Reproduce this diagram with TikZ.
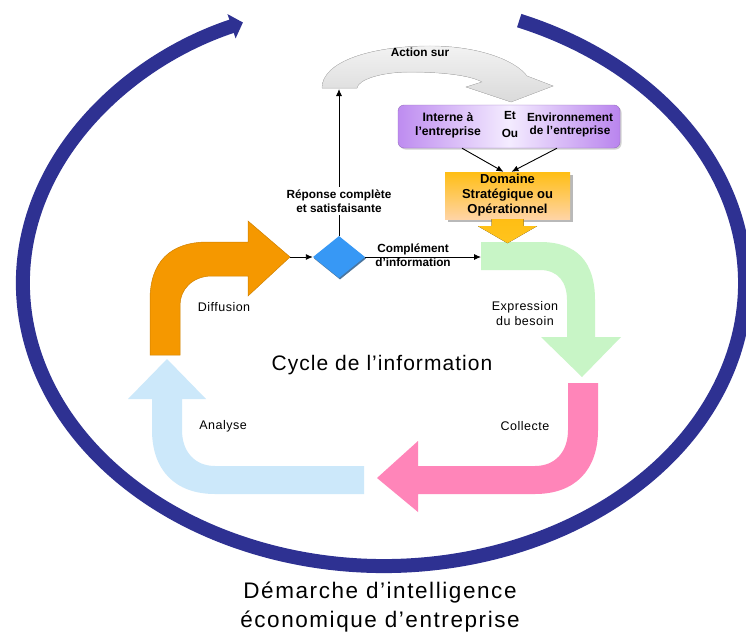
\documentclass[tikz,border=0pt]{standalone}
\usepackage{fontspec}
\setmainfont{Liberation Sans}
\usetikzlibrary{shapes.geometric,arrows.meta,calc,shadows}
\definecolor{navy}{RGB}{46,49,146}
\definecolor{orangeA}{RGB}{245,152,0}
\definecolor{greenA}{RGB}{200,245,198}
\definecolor{pinkA}{RGB}{255,133,185}
\definecolor{blueA}{RGB}{204,232,250}
\definecolor{greyA}{RGB}{218,218,218}
\definecolor{diablue}{RGB}{55,152,245}
\definecolor{purpL}{RGB}{190,140,240}
\definecolor{purpM}{RGB}{244,236,255}
\definecolor{purpR}{RGB}{185,132,238}
\definecolor{domTop}{RGB}{255,190,20}
\definecolor{domBot}{RGB}{255,212,165}
\definecolor{yelArr}{RGB}{255,196,30}
\begin{document}
\begin{tikzpicture}[x=1pt,y=1pt,
  boldlbl/.style={font=\fontsize{11.8}{13.8}\selectfont\bfseries, align=center, inner sep=1pt},
  lbl/.style={font=\fontsize{12.5}{15}\selectfont\addfontfeature{LetterSpace=4}, align=center, inner sep=1pt},
  conn/.style={draw=black, line width=0.9pt, -{Latex[length=7pt,width=6pt]}}]
\useasboundingbox (0,0) rectangle (746,-634);
\fill[white] (0,0) rectangle (746,-634);

% big outer arc
\draw[navy, line width=14pt, -{Triangle[length=12pt,width=25pt]}]
  (519.2,-20.6) arc[start angle=68, end angle=-247, x radius=361, y radius=283];

% grey "Action sur" arrow
\fill[top color=gray!10, bottom color=greyA, draw=gray!45, line width=0.4pt]
  (322,-88) .. controls (322,-62) and (370,-46) .. (430,-46)
  .. controls (478,-46) and (515,-60) .. (527,-76)
  -- (553,-86) -- (511,-102) -- (466,-87) -- (482,-82)
  .. controls (470,-75) and (440,-72) .. (410,-72)
  .. controls (380,-72) and (358,-80) .. (357,-88) -- cycle;

% orange arrow (Diffusion)
\fill[orangeA, draw=orangeA!85!black, line width=0.5pt]
  (150,-355) -- (150,-300) .. controls (150,-262) and (170,-242) .. (208,-242)
  -- (248,-242) -- (248,-221) -- (290,-257) -- (248,-296) -- (248,-276)
  -- (212,-276) .. controls (192,-276) and (180,-290) .. (180,-305)
  -- (180,-355) -- cycle;

% green arrow (Expression du besoin)
\fill[greenA]
  (481,-242) -- (540,-242) .. controls (577,-242) and (595,-262) .. (595,-300)
  -- (595,-337) -- (621,-337) -- (582,-377) -- (541,-337) -- (567,-337)
  -- (567,-300) .. controls (567,-282) and (558,-270) .. (540,-270)
  -- (481,-270) -- cycle;

% pink arrow (Collecte)
\fill[pinkA]
  (568,-383) -- (598,-383) -- (598,-430) .. controls (598,-470) and (575,-494) .. (535,-494)
  -- (418,-494) -- (418,-512) -- (377,-478) -- (418,-441) -- (418,-466)
  -- (535,-466) .. controls (555,-466) and (568,-452) .. (568,-430) -- cycle;

% light blue arrow (Analyse)
\fill[blueA]
  (364,-466) -- (364,-494) -- (215,-494) .. controls (175,-494) and (152,-470) .. (152,-430)
  -- (152,-399) -- (128,-399) -- (167,-359) -- (206,-399) -- (182,-399)
  -- (182,-430) .. controls (182,-452) and (195,-466) .. (215,-466) -- cycle;

% coordinates for connectors
\coordinate (otip) at (290,-257);
\coordinate (gstart) at (481,-257);
\coordinate (gbase) at (339,-89);

% diamond
\node[diamond, aspect=1.24, minimum width=52pt, minimum height=42pt, inner sep=0pt,
      fill=diablue, drop shadow={shadow xshift=1pt, shadow yshift=-1.5pt, fill=diablue!55!black, opacity=0.8}]
  (dia) at (339,-257) {};

\draw[conn] (otip) -- (dia.west);
\draw[conn] (dia.east) -- (gstart);
\draw[conn] (dia.north) -- (gbase);

\node[boldlbl, fill=white, inner sep=3pt] (rep) at (339,-201) {Réponse complète\\et satisfaisante};
\node[boldlbl] (compl) at (413,-255) {Complément\\d’information};
\node[boldlbl] (action) at (420,-52) {Action sur};

% purple box
\node[draw=purpL!80!black, line width=0.4pt, rounded corners=6pt, minimum width=222pt, minimum height=43pt,
      left color=purpL, right color=purpR, middle color=purpM,
      drop shadow={shadow xshift=1.5pt, shadow yshift=-1.5pt, fill=gray!45, opacity=0.8}]
  (ent) at (509,-126.5) {};
\node[boldlbl, font=\fontsize{12.2}{14}\selectfont\bfseries] (interne) at (448,-125) {Interne à\\l’entreprise};
\node[boldlbl] (et) at (510,-115) {Et};
\node[boldlbl] (ou) at (510,-133) {Ou};
\node[boldlbl] (env) at (570,-125) {Environnement\\de l’entreprise};

% domaine box
\node[minimum width=125pt, minimum height=47pt, inner sep=0pt,
      top color=domTop, bottom color=domBot,
      drop shadow={shadow xshift=3pt, shadow yshift=-3pt, fill=gray!55, opacity=1}]
  (dom) at (507.5,-195.5) {};
\node[boldlbl, font=\fontsize{13}{15}\selectfont\bfseries] (domtxt) at (dom.center) {Domaine\\Stratégique ou\\Opérationnel};

\draw[conn] ([xshift=-47pt]ent.south) -- ([xshift=-4pt]dom.north);
\draw[conn] ([xshift=48pt]ent.south) -- ([xshift=4pt]dom.north);

% yellow arrow below domaine box
\fill[top color=domTop, bottom color=yelArr]
  ($(dom.south)+(-16,0)$) -- ($(dom.south)+(-16,-7)$) -- ($(dom.south)+(-29.5,-7)$)
  -- ($(dom.south)+(0,-24)$) -- ($(dom.south)+(29.5,-7)$) -- ($(dom.south)+(16,-7)$)
  -- ($(dom.south)+(16,0)$) -- cycle;

% cycle labels
\node[lbl] (diff) at (224,-307) {Diffusion};
\node[lbl] (expr) at (525,-314) {Expression\\du besoin};
\node[lbl] (coll) at (525,-426) {Collecte};
\node[lbl] (anal) at (223,-426) {Analyse};
\node[font=\fontsize{21}{25}\selectfont\addfontfeature{LetterSpace=5}, inner sep=0pt] (cycle) at (382,-365) {Cycle de l’information};

% title
\node[font=\fontsize{22.5}{29}\selectfont\addfontfeature{LetterSpace=7}, align=center, inner sep=0pt] (title) at (380,-607) {Démarche d’intelligence\\économique d’entreprise};
\end{tikzpicture}
\end{document}
